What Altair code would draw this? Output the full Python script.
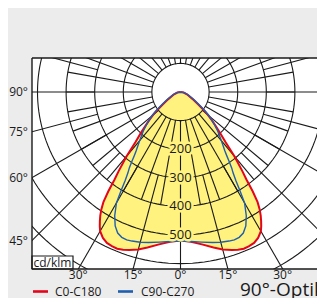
import altair as alt
import numpy as np
import pandas as pd

# ---------------- data ----------------
angles = [0, 4, 8, 12, 15, 18, 20, 22, 24, 26, 28, 30, 31, 32, 33, 34, 35, 36, 37, 38, 40, 42, 44, 46, 48, 50, 52, 55, 60, 70, 80, 90]
c0_c180 = [519, 525, 538, 556, 570, 581, 587, 591, 590, 587, 578, 562, 548, 532, 515, 495, 470, 430, 383, 352, 294, 235, 200, 172, 148, 125, 105, 75, 48, 24, 11, 0]
c90_c270 = [521, 524, 530, 538, 544, 548, 550, 548, 540, 521, 490, 448, 405, 365, 338, 320, 296, 275, 258, 245, 222, 203, 185, 165, 148, 132, 112, 85, 56, 28, 13, 0]

rings = [100, 200, 300, 400, 500, 600, 700, 800, 900]
ring_labels = [200, 300, 400, 500]
inner_step, inner_from, inner_to = 10, 100, 400
outer_step, outer_from, outer_to = 15, 300, 1000
left_labels = [90, 75, 60, 45]
bottom_labels = [-30, -15, 0, 15, 30]

series_names = ["C0-C180", "C90-C270"]
RED = "#e3061b"
BLUE = "#1f5fae"
YELLOW = "#fff27e"
GRID = "#1a1a1a"
FONT = "Open Sans"

# ---------------- layout helpers ----------------
CX, CY, K = 180.5, 92.0, 0.286          # centre (page px) and px per cd/klm
LEFT_PX, RIGHT_PX, TOP_PX, BOT_PX = 32, 317, 58, 269
PAGE_BOTTOM = 298


def dx(px):
    return (px - CX) / K


def dy(py):
    return -(py - CY) / K


X_DOMAIN = [dx(LEFT_PX), dx(RIGHT_PX)]
Y_DOMAIN = [dy(BOT_PX), dy(TOP_PX)]
W = RIGHT_PX - LEFT_PX
H = BOT_PX - TOP_PX

XS = alt.Scale(domain=X_DOMAIN, nice=False, zero=False)
YS = alt.Scale(domain=Y_DOMAIN, nice=False, zero=False)


def X(f="x"):
    return alt.X(f"{f}:Q", scale=XS, axis=None)


def Y(f="y"):
    return alt.Y(f"{f}:Q", scale=YS, axis=None)


# ---------------- curves ----------------
def curve(vals, name):
    a = np.array(angles, dtype=float)
    v = np.array(vals, dtype=float)
    full_a = np.concatenate([-a[::-1], a[1:]])
    full_v = np.concatenate([v[::-1], v[1:]])
    t = np.radians(full_a)
    return pd.DataFrame({"x": full_v * np.sin(t), "y": -full_v * np.cos(t),
                         "i": np.arange(len(t)), "s": name})


curves = pd.concat([curve(c0_c180, series_names[0]), curve(c90_c270, series_names[1])])

# ---------------- grid ----------------
ring_rows = []
for r in rings:
    for j, a in enumerate(np.arange(0, 361, 2)):
        t = np.radians(a)
        ring_rows.append({"x": r * np.sin(t), "y": -r * np.cos(t), "i": j, "ring": r})
ring_df = pd.DataFrame(ring_rows)

spoke_rows = []
for a in range(-180, 180, inner_step):
    t = np.radians(a)
    spoke_rows.append({"x": inner_from * np.sin(t), "y": -inner_from * np.cos(t),
                       "x2": inner_to * np.sin(t), "y2": -inner_to * np.cos(t)})
for a in range(-180, 180, outer_step):
    t = np.radians(a)
    spoke_rows.append({"x": outer_from * np.sin(t), "y": -outer_from * np.cos(t),
                       "x2": outer_to * np.sin(t), "y2": -outer_to * np.cos(t)})
spoke_df = pd.DataFrame(spoke_rows)

# ---------------- labels ----------------
rl_df = pd.DataFrame({"x": [0] * len(ring_labels), "y": [-v for v in ring_labels],
                      "t": [str(v) for v in ring_labels]})

L = -X_DOMAIN[0]
left_df = pd.DataFrame({"x": [X_DOMAIN[0]] * len(left_labels),
                        "y": [-L * np.cos(np.radians(a)) / np.sin(np.radians(a)) for a in left_labels],
                        "t": [f"{a}°" for a in left_labels]})
B = -Y_DOMAIN[0]
bottom_df = pd.DataFrame({"x": [B * np.tan(np.radians(a)) for a in bottom_labels],
                          "y": [Y_DOMAIN[0]] * len(bottom_labels),
                          "t": [f"{abs(a)}°" for a in bottom_labels]})

fill = alt.Chart(curves).mark_line(fill=YELLOW, stroke=None, strokeWidth=0, clip=True).encode(
    x=X(), y=Y(), order="i:Q", detail="s:N")

rings_layer = alt.Chart(ring_df).mark_line(color=GRID, strokeWidth=1.1, clip=True).encode(
    x=X(), y=Y(), order="i:Q", detail="ring:N")

spokes_layer = alt.Chart(spoke_df).mark_rule(color=GRID, strokeWidth=1.1, clip=True).encode(
    x=X(), y=Y(), x2="x2:Q", y2="y2:Q")

lines = alt.Chart(curves).mark_line(clip=True).encode(
    x=X(), y=Y(), order="i:Q",
    color=alt.Color("s:N", scale=alt.Scale(domain=series_names, range=[RED, BLUE]), legend=None),
    strokeWidth=alt.StrokeWidth("s:N", scale=alt.Scale(domain=series_names, range=[2.0, 1.4]), legend=None))

halo = alt.Chart(rl_df).mark_text(font=FONT, fontSize=13, stroke=YELLOW, strokeWidth=5,
                                  fill=YELLOW).encode(x=X(), y=Y(), text="t:N")
rl_text = alt.Chart(rl_df).mark_text(font=FONT, fontSize=13, color="#1a1a1a").encode(
    x=X(), y=Y(), text="t:N")

# cd/klm box
unit_df = pd.DataFrame({"x": [X_DOMAIN[0]], "x2": [dx(73)], "y": [Y_DOMAIN[0]], "y2": [dy(256)],
                        "tx": [(X_DOMAIN[0] + dx(73)) / 2], "ty": [(Y_DOMAIN[0] + dy(256)) / 2],
                        "t": ["cd/klm"]})
unit_box = alt.Chart(unit_df).mark_rect(fill="white", stroke=GRID, strokeWidth=1.2).encode(
    x=X(), x2="x2:Q", y=Y(), y2="y2:Q")
unit_text = alt.Chart(unit_df).mark_text(font=FONT, fontSize=12, color="#1a1a1a").encode(
    x=X("tx"), y=Y("ty"), text="t:N")

# frame (left, top, bottom)
frame_df = pd.DataFrame({"x": [X_DOMAIN[0], X_DOMAIN[0], X_DOMAIN[0]],
                         "x2": [X_DOMAIN[0], X_DOMAIN[1] + 50, X_DOMAIN[1] + 50],
                         "y": [Y_DOMAIN[0], Y_DOMAIN[1], Y_DOMAIN[0]],
                         "y2": [Y_DOMAIN[1], Y_DOMAIN[1], Y_DOMAIN[0]]})
frame = alt.Chart(frame_df).mark_rule(color=GRID, strokeWidth=1.4).encode(
    x=X(), y=Y(), x2="x2:Q", y2="y2:Q")

left_text = alt.Chart(left_df).mark_text(font=FONT, fontSize=12, align="right", dx=-4,
                                         color="#1a1a1a").encode(x=X(), y=Y(), text="t:N")
bottom_text = alt.Chart(bottom_df).mark_text(font=FONT, fontSize=12, baseline="top", dy=1,
                                             color="#1a1a1a").encode(x=X(), y=Y(), text="t:N")

# legend + title
leg_df = pd.DataFrame({"x": [dx(33), dx(118)], "x2": [dx(48), dx(133)],
                       "y": [dy(291.5), dy(291.5)], "tx": [dx(55), dx(141)],
                       "s": series_names})
leg_lines = alt.Chart(leg_df).mark_rule(strokeWidth=2.6).encode(
    x=X(), x2="x2:Q", y=Y(),
    color=alt.Color("s:N", scale=alt.Scale(domain=series_names, range=[RED, BLUE]), legend=None))
leg_text = alt.Chart(leg_df).mark_text(font=FONT, fontSize=12, align="left", baseline="middle",
                                       color="#1a1a1a").encode(x=X("tx"), y=Y(), text="s:N")
title_df = pd.DataFrame({"x": [dx(240)], "y": [dy(296)], "t": ["90°-Optik"]})
title = alt.Chart(title_df).mark_text(font=FONT, fontSize=19, align="left", baseline="alphabetic",
                                      color="#1a1a1a").encode(x=X(), y=Y(), text="t:N")

chart = alt.layer(fill, rings_layer, spokes_layer, lines, halo, rl_text, unit_box, unit_text,
                  frame, left_text, bottom_text, leg_lines, leg_text, title).properties(
    width=W, height=H,
    autosize=alt.AutoSizeParams(type="none"),
    padding={"left": LEFT_PX - 8, "top": TOP_PX - 8, "right": 0, "bottom": PAGE_BOTTOM - BOT_PX},
    background="#ececec",
).configure_view(stroke=None, fill="white")

chart.save("out.html", embed_options={"renderer": "svg", "actions": False})
